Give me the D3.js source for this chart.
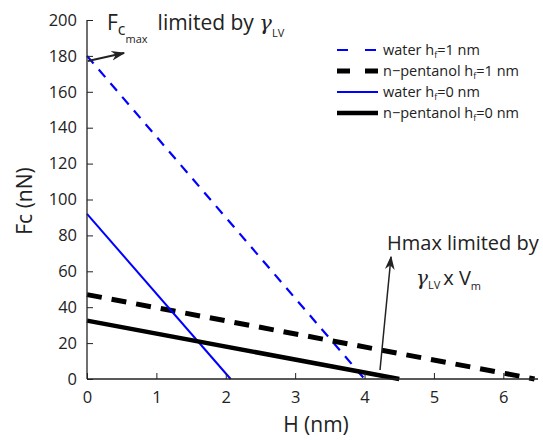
<!DOCTYPE html>
<html><head><meta charset="utf-8">
<script src="https://cdn.jsdelivr.net/npm/d3@7"></script>
<style>body{margin:0;background:#fff}svg{font-family:"Open Sans",sans-serif}</style>
</head><body><svg id="c" width="543" height="440"></svg>
<script>
const seriesNames = ["water h_f=1 nm","n\u2212pentanol h_f=1 nm","water h_f=0 nm","n\u2212pentanol h_f=0 nm"];
const seriesColors = ["#0000ff","#000000","#0000ff","#000000"];
const seriesStart = [[0,180],[0,47],[0,92],[0,32.5]];
const seriesEnd = [[4.0,0],[6.45,0],[2.07,0],[4.5,0]];
const xTicks = [0,1,2,3,4,5,6];
const yTicks = [0,20,40,60,80,100,120,140,160,180,200];

const svg = d3.select("#c");
const x = d3.scaleLinear().domain([0,6.5]).range([87,538]);
const y = d3.scaleLinear().domain([0,200]).range([379,20]);

const widths=[2.2,5,2,4.5], dashes=["10,8","15,10",null,null];
const line = d3.line().x(d=>x(d[0])).y(d=>y(d[1]));
seriesNames.forEach((n,i)=>{
  svg.append("path").attr("d",line([seriesStart[i],seriesEnd[i]]))
    .attr("stroke",seriesColors[i]).attr("stroke-width",widths[i]).attr("fill","none")
    .attr("stroke-dasharray",dashes[i]);
});

const xa = svg.append("g").attr("transform","translate(0,379)")
  .call(d3.axisBottom(x).tickValues(xTicks).tickSize(-6).tickPadding(12).tickFormat(d3.format("d")));
const ya = svg.append("g").attr("transform","translate(87,0)")
  .call(d3.axisLeft(y).tickValues(yTicks).tickSize(-6).tickPadding(10).tickFormat(d3.format("d")));
[xa,ya].forEach(a=>{a.selectAll("text").attr("font-size",16.5).attr("font-family","Open Sans").attr("fill","#222");
  a.select(".domain").attr("stroke","#222").attr("stroke-width",1.3);
  a.selectAll(".tick line").attr("stroke","#222");});
xa.select(".domain").attr("d","M87,0H538");
ya.select(".domain").attr("d","M0,379V20");

svg.append("text").attr("x",316).attr("y",432).attr("text-anchor","middle").attr("font-size",21).attr("fill","#222").text("H (nm)");
svg.append("text").attr("transform","translate(32,201) rotate(-90)").attr("text-anchor","middle").attr("font-size",21).attr("fill","#222").text("Fc (nN)");

// legend
const lg = svg.append("g");
seriesNames.forEach((n,i)=>{
  const yy = 50 + i*21;
  lg.append("line").attr("x1",337).attr("x2",378).attr("y1",yy).attr("y2",yy)
    .attr("stroke",seriesColors[i]).attr("stroke-width",widths[i])
    .attr("stroke-dasharray",dashes[i]?(i==0?"11,17":"13,15"):null);
  const parts = n.split("h_f");
  const t = lg.append("text").attr("x",383).attr("y",yy+5).attr("font-size",14.5).attr("fill","#222");
  t.append("tspan").text(parts[0]+"h");
  t.append("tspan").attr("font-size",9).attr("dy",3).text("f");
  t.append("tspan").attr("dy",-3).text(parts[1]);
});

const ah = svg.append("defs").append("marker").attr("id","ah2").attr("viewBox","0 0 10 10").attr("refX",9).attr("refY",5)
  .attr("markerWidth",14).attr("markerHeight",14).attr("orient","auto").attr("markerUnits","userSpaceOnUse");
ah.append("path").attr("d","M0,1.5L10,5L0,8.5L3,5Z").attr("fill","#222");

svg.append("line").attr("x1",x(0)+1).attr("y1",y(180)+5).attr("x2",124).attr("y2",53)
  .attr("stroke","#222").attr("stroke-width",2).attr("marker-end","url(#ah2)");
svg.append("line").attr("x1",380).attr("y1",370).attr("x2",391).attr("y2",257)
  .attr("stroke","#222").attr("stroke-width",1.5).attr("marker-end","url(#ah2)");

const t1 = svg.append("text").attr("x",107).attr("y",30).attr("font-size",21).attr("fill","#222");
t1.append("tspan").text("F");
t1.append("tspan").attr("font-size",16).attr("dy",5).text("c");
t1.append("tspan").attr("font-size",11).attr("dy",8).text("max");
t1.append("tspan").attr("dy",-13).attr("dx",10).text("limited by ");
t1.append("tspan").attr("font-family","DejaVu Serif").attr("font-style","italic").text("\u03b3");
t1.append("tspan").attr("font-size",11).attr("dy",7).text("LV");

svg.append("text").attr("x",387).attr("y",250).attr("font-size",20).attr("fill","#222").text("Hmax limited by");
const t2 = svg.append("text").attr("x",416).attr("y",285).attr("font-size",20).attr("fill","#222");
t2.append("tspan").attr("font-family","DejaVu Serif").attr("font-style","italic").text("\u03b3");
t2.append("tspan").attr("font-size",11).attr("dy",4).text("LV");
t2.append("tspan").attr("dy",-4).attr("dx",3).text("x V");
t2.append("tspan").attr("font-size",11).attr("dy",5).text("m");
</script></body></html>
